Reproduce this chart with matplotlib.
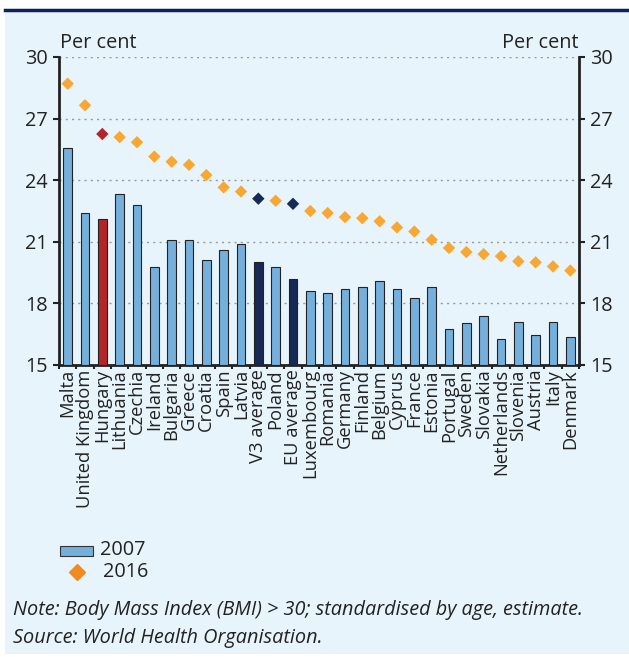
import matplotlib.pyplot as plt
from matplotlib.patches import Rectangle
from matplotlib.lines import Line2D
import numpy as np

# 数据
countries = ["Malta", "United Kingdom", "Hungary", "Lithuania", "Czechia", "Ireland",
             "Bulgaria", "Greece", "Croatia", "Spain", "Latvia", "V3 average", "Poland",
             "EU average", "Luxembourg", "Romania", "Germany", "Finland", "Belgium",
             "Cyprus", "France", "Estonia", "Portugal", "Sweden", "Slovakia",
             "Netherlands", "Slovenia", "Austria", "Italy", "Denmark"]
bmi_2007 = [25.55, 22.4, 22.1, 23.35, 22.8, 19.75, 21.1, 21.1, 20.1, 20.6, 20.9, 20.0,
            19.75, 19.2, 18.6, 18.5, 18.7, 18.8, 19.1, 18.7, 18.25, 18.8, 16.75, 17.05,
            17.4, 16.25, 17.1, 16.45, 17.1, 16.35]
bmi_2016 = [28.7, 27.65, 26.25, 26.1, 25.85, 25.15, 24.9, 24.75, 24.25, 23.65, 23.45,
            23.1, 23.0, 22.85, 22.5, 22.4, 22.2, 22.15, 22.0, 21.7, 21.5, 21.1, 20.7,
            20.5, 20.4, 20.3, 20.05, 20.0, 19.8, 19.6]

BG = "#E8F4FB"
BLUE = "#75B0DC"
RED = "#B2262A"
NAVY = "#172A56"
ORANGE = "#F8A832"
TXT = "#222222"
FS = 14.3

plt.rcParams['font.family'] = ['Open Sans', 'DejaVu Sans']

fig = plt.figure(figsize=(6.29, 6.57), dpi=100)
fig.patch.set_facecolor("white")
fig.patches.append(Rectangle((5 / 629, 0.004), 1, 1 - 11 / 657 - 0.004, transform=fig.transFigure,
                             facecolor=BG, edgecolor="none", zorder=-5))
fig.lines.append(Line2D([5 / 629, 1], [1 - 10 / 657, 1 - 10 / 657], transform=fig.transFigure,
                        color="#0E1F5B", linewidth=2.5))

ax = fig.add_axes([59 / 629, 1 - 365 / 657, 520 / 629, 308 / 657])
ax.set_facecolor(BG)

x = np.arange(len(countries))
bar_colors = [RED if c == "Hungary" else NAVY if "average" in c else BLUE for c in countries]
dia_colors = [RED if c == "Hungary" else NAVY if "average" in c else ORANGE for c in countries]

ax.bar(x, [v - 15 for v in bmi_2007], bottom=15, width=0.5, color=bar_colors,
       edgecolor="#222222", linewidth=0.8, zorder=3)
ax.scatter(x, bmi_2016, marker="D", s=40, c=dia_colors, edgecolors="none", zorder=4)

ax.set_xlim(-0.5, len(countries) - 0.5)
ax.set_ylim(15, 30)
ax.set_yticks([15, 18, 21, 24, 27, 30])
for yv in [18, 21, 24, 27, 30]:
    ax.axhline(yv, color="#999999", linestyle=(0, (1.5, 3)), linewidth=1, zorder=1)

ax.set_xticks(x)
ax.set_xticklabels(countries, rotation=90, fontsize=13.2, color=TXT)
ax.tick_params(axis="x", length=0, pad=3)
ax.set_xticks(np.arange(-0.5, len(countries)), minor=True)
ax.tick_params(axis="x", which="minor", length=3, width=1.5, direction="out", color=TXT)
ax.tick_params(axis="y", length=4, width=1.5, direction="out", labelsize=FS, pad=4,
               labelright=True, right=True, colors=TXT)

for s in ["left", "right", "bottom"]:
    ax.spines[s].set_linewidth(2)
    ax.spines[s].set_color(TXT)
ax.spines["top"].set_visible(False)

fig.text(60 / 629, 1 - 43 / 657, "Per cent", fontsize=FS, color=TXT, va="center")
fig.text(578 / 629, 1 - 43 / 657, "Per cent", fontsize=FS, color=TXT, va="center", ha="right")

# 图例
fig.patches.append(Rectangle((60 / 629, 1 - 556 / 657), 33 / 629, 10 / 657, transform=fig.transFigure,
                             facecolor=BLUE, edgecolor="#333333", linewidth=0.8))
fig.text(100 / 629, 1 - 550 / 657, "2007", fontsize=FS, color=TXT, va="center")
fig.lines.append(Line2D([77 / 629], [1 - 572 / 657], transform=fig.transFigure, marker="D",
                        markersize=8, color="#F28A22", linestyle="none"))
fig.text(103 / 629, 1 - 572 / 657, "2016", fontsize=FS, color=TXT, va="center")

fig.text(13 / 629, 1 - 610 / 657, "Note: Body Mass Index (BMI) > 30; standardised by age, estimate.",
         fontsize=FS, style="italic", color=TXT, va="center")
fig.text(13 / 629, 1 - 638 / 657, "Source: World Health Organisation.",
         fontsize=FS, style="italic", color=TXT, va="center")

fig.savefig("out.png", dpi=100, facecolor=fig.get_facecolor())
